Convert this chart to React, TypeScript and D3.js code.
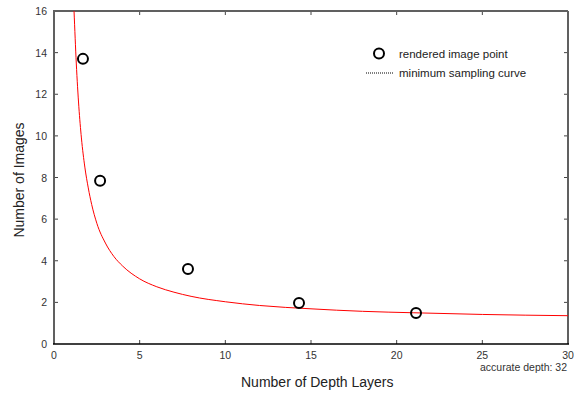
import { useEffect, useRef } from "react";
import * as d3 from "d3";

// rendered image points
const depthLayers = [1.69, 2.69, 7.82, 14.3, 21.13];
const imageCounts = [13.7, 7.84, 3.6, 1.97, 1.49];

// minimum sampling curve
const curveX = [1.17, 1.3, 1.45, 1.6, 1.8, 2.0, 2.2, 2.5, 3.0, 3.5, 4, 5, 6, 7, 8, 10, 12, 15, 18, 21, 25, 30];
const curveY = [16.0, 13.5, 11.4, 9.9, 8.5, 7.5, 6.7, 5.8, 4.85, 4.2, 3.75, 3.13, 2.75, 2.49, 2.29, 2.03, 1.85, 1.69, 1.57, 1.5, 1.42, 1.36];

const xTicks = [0, 5, 10, 15, 20, 25, 30];
const yTicks = [0, 2, 4, 6, 8, 10, 12, 14, 16];

const W = 574;
const H = 397;
const margin = { top: 11, right: 6, bottom: 53, left: 54 };

export default function App() {
    const svgRef = useRef<SVGSVGElement | null>(null);

    useEffect(() => {
        if (!svgRef.current) return;
        const svg = d3.select(svgRef.current);
        svg.selectAll("*").remove();

        const x0 = margin.left, x1 = W - margin.right;
        const y0 = H - margin.bottom, y1 = margin.top;
        const x = d3.scaleLinear().domain([0, 30]).range([x0, x1]);
        const y = d3.scaleLinear().domain([0, 16]).range([y0, y1]);
        const font = "'Liberation Sans', Arial, sans-serif";

        svg.append("rect").attr("width", W).attr("height", H).attr("fill", "#fff");

        svg.append("defs").append("clipPath").attr("id", "plotclip")
            .append("rect").attr("x", x0).attr("y", y1).attr("width", x1 - x0).attr("height", y0 - y1);

        // ticks (gnuplot style, inward + mirrored)
        const tl = 4;
        const tk = svg.append("g").attr("stroke", "#444").attr("stroke-width", 1);
        xTicks.slice(1, -1).forEach((t) => {
            tk.append("line").attr("x1", x(t)).attr("x2", x(t)).attr("y1", y0).attr("y2", y0 - tl);
            tk.append("line").attr("x1", x(t)).attr("x2", x(t)).attr("y1", y1).attr("y2", y1 + tl);
        });
        yTicks.slice(1, -1).forEach((t) => {
            tk.append("line").attr("x1", x0).attr("x2", x0 + tl).attr("y1", y(t)).attr("y2", y(t));
            tk.append("line").attr("x1", x1).attr("x2", x1 - tl).attr("y1", y(t)).attr("y2", y(t));
        });

        // frame
        svg.append("line").attr("x1", x0).attr("x2", x1).attr("y1", y1).attr("y2", y1)
            .attr("stroke", "#606060").attr("stroke-width", 2);
        svg.append("line").attr("x1", x1).attr("x2", x1).attr("y1", y1).attr("y2", y0)
            .attr("stroke", "#606060").attr("stroke-width", 2);
        svg.append("line").attr("x1", x0).attr("x2", x0).attr("y1", y1 - 1).attr("y2", y0)
            .attr("stroke", "#606060").attr("stroke-width", 2);
        svg.append("line").attr("x1", x0 - 1).attr("x2", x1 + 1).attr("y1", y0).attr("y2", y0)
            .attr("stroke", "#000").attr("stroke-width", 1.5);

        // tick labels
        svg.append("g").selectAll("text").data(xTicks).join("text")
            .attr("x", (d) => x(d)).attr("y", y0 + 15)
            .attr("text-anchor", "middle").attr("font-family", font).attr("font-size", 10.5)
            .attr("fill", "#333").text((d) => d);
        svg.append("g").selectAll("text").data(yTicks).join("text")
            .attr("x", x0 - 7).attr("y", (d) => y(d) + 4)
            .attr("text-anchor", "end").attr("font-family", font).attr("font-size", 10.5)
            .attr("fill", "#333").text((d) => d);

        // curve
        const pts = curveX.map((v, i) => [v, curveY[i]] as [number, number]);
        const line = d3.line<[number, number]>()
            .x((d) => x(d[0])).y((d) => y(d[1]))
            .curve(d3.curveMonotoneX);
        svg.append("path").datum(pts).attr("clip-path", "url(#plotclip)")
            .attr("fill", "none").attr("stroke", "#ff0000").attr("stroke-width", 1)
            .attr("d", line);

        // points
        svg.append("g").selectAll("circle").data(depthLayers).join("circle")
            .attr("cx", (d) => x(d)).attr("cy", (_, i) => y(imageCounts[i])).attr("r", 5)
            .attr("fill", "none").attr("stroke", "#000").attr("stroke-width", 2);

        // legend
        svg.append("circle").attr("cx", 379).attr("cy", 53.5).attr("r", 5)
            .attr("fill", "none").attr("stroke", "#000").attr("stroke-width", 2);
        svg.append("text").attr("x", 399).attr("y", 57.5).attr("font-family", font).attr("font-size", 11.5)
            .attr("fill", "#222").text("rendered image point");
        svg.append("line").attr("x1", 366).attr("x2", 394).attr("y1", 73).attr("y2", 73)
            .attr("stroke", "#000").attr("stroke-width", 1).attr("stroke-dasharray", "1,1");
        svg.append("text").attr("x", 399).attr("y", 76.5).attr("font-family", font).attr("font-size", 11.5)
            .attr("fill", "#222").text("minimum sampling curve");

        // annotation + titles
        svg.append("text").attr("x", 567).attr("y", 370.5).attr("text-anchor", "end")
            .attr("font-family", font).attr("font-size", 10.5).attr("fill", "#333")
            .text("accurate depth: 32");
        svg.append("text").attr("x", 241).attr("y", 386.5)
            .attr("font-family", font).attr("font-size", 14).attr("fill", "#222")
            .text("Number of Depth Layers");
        svg.append("text").attr("transform", `translate(23.5,180) rotate(-90)`)
            .attr("text-anchor", "middle").attr("font-family", font).attr("font-size", 14).attr("fill", "#222")
            .text("Number of Images");
    }, []);

    return (
        <svg ref={svgRef} width={W} height={H}
            style={{ position: "absolute", left: 0, top: 0, display: "block" }} />
    );
}
